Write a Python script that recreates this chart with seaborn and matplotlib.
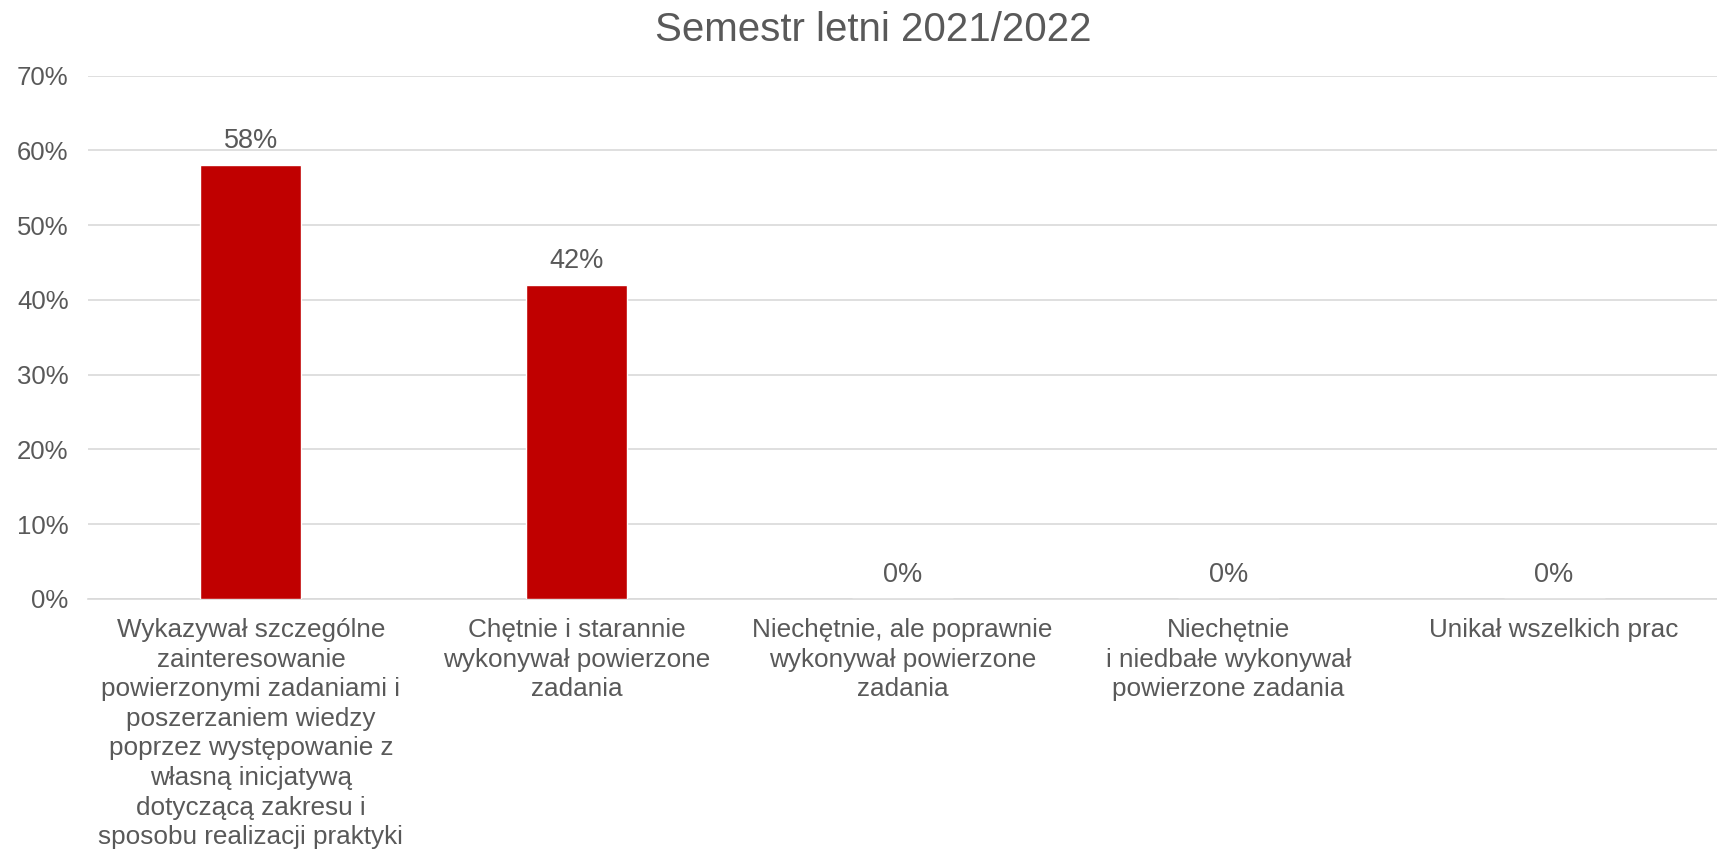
import matplotlib
matplotlib.use("Agg")
import matplotlib.pyplot as plt
import seaborn as sns
import pandas as pd
from matplotlib.ticker import FuncFormatter

categories = [
    "Wykazywał szczególne\nzainteresowanie\npowierzonymi zadaniami i\nposzerzaniem wiedzy\npoprzez występowanie z\nwłasną inicjatywą\ndotyczącą zakresu i\nsposobu realizacji praktyki",
    "Chętnie i starannie\nwykonywał powierzone\nzadania",
    "Niechętnie, ale poprawnie\nwykonywał powierzone\nzadania",
    "Niechętnie\ni niedbałe wykonywał\npowierzone zadania",
    "Unikał wszelkich prac",
]
values = [58, 42, 0, 0, 0]
y_ticks = [0, 10, 20, 30, 40, 50, 60, 70]
title = "Semestr letni 2021/2022"

sns.set_theme(style="white")
plt.rcParams["font.family"] = ["Liberation Sans", "DejaVu Sans"]

text_color = "#595959"
grid_color = "#D9D9D9"
bar_color = "#C00000"

df = pd.DataFrame({"kategoria": categories, "procent": values})

fig = plt.figure(figsize=(17.17, 8.55), dpi=100)
ax = fig.add_axes([88 / 1717, 1 - 599 / 855, 1 - 88 / 1717, (599 - 75.5) / 855])

sns.barplot(data=df, x="kategoria", y="procent", color=bar_color,
            width=0.31, saturation=1, ax=ax, zorder=3)

ax.set_ylim(0, 70)
ax.set_yticks(y_ticks)
ax.yaxis.set_major_formatter(FuncFormatter(lambda v, _: f"{v:.0f}%"))
ax.set_xlim(-0.5, len(categories) - 0.5)
ax.grid(axis="y", color=grid_color, linewidth=1.2, zorder=0)
ax.grid(axis="x", visible=False)
for side in ["top", "right", "left"]:
    ax.spines[side].set_visible(False)
ax.spines["bottom"].set_color(grid_color)
ax.spines["bottom"].set_linewidth(1.2)
ax.set_xlabel("")
ax.set_ylabel("")

ax.tick_params(axis="y", length=0, pad=14, labelsize=18.5, labelcolor=text_color)
ax.tick_params(axis="x", length=0, pad=14, labelsize=18.8, labelcolor=text_color)
for lbl in ax.get_xticklabels():
    lbl.set_linespacing(1.29)
    lbl.set_horizontalalignment("center")
    lbl.set_verticalalignment("top")

ax.bar_label(ax.containers[0], labels=[f"{v}%" for v in values],
             padding=8, fontsize=19.5, color=text_color)

fig.text(873 / 1717, 1 - 30 / 855, title, ha="center", va="center",
         fontsize=29, color=text_color)

fig.savefig("out.png", dpi=100, facecolor="white")
